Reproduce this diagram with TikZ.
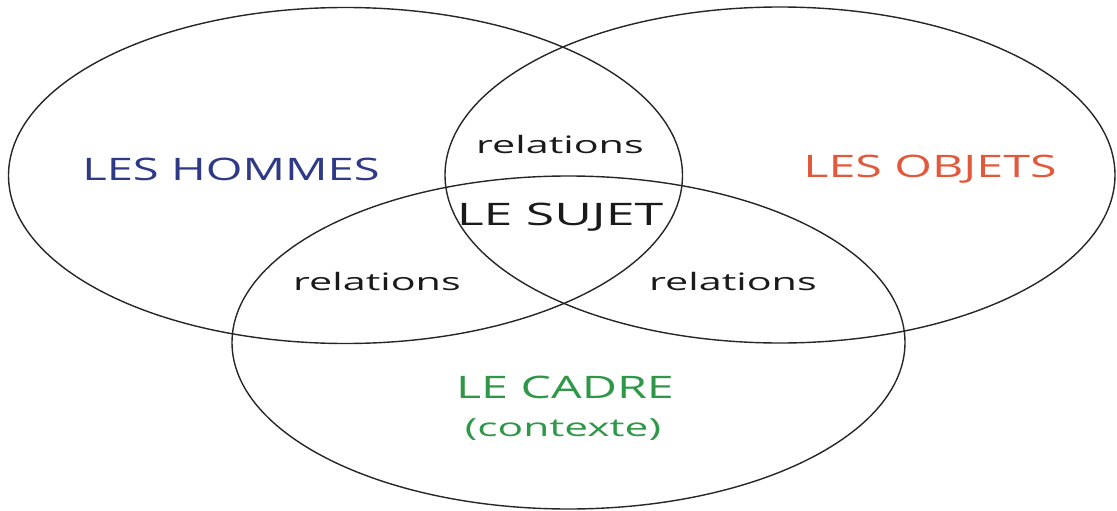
\documentclass[tikz,border=0pt]{standalone}
\usepackage{fontspec}
\setmainfont{Open Sans}
\definecolor{hommes}{HTML}{2E3A86}
\definecolor{objets}{HTML}{E2583A}
\definecolor{cadre}{HTML}{2E9848}
\definecolor{txt}{HTML}{1A1A1A}
\newcommand{\stretchtxt}[2]{\scalebox{#1}[1]{#2}}
\begin{document}
\begin{tikzpicture}[x=1pt,y=-1pt,
  circ/.style={draw=black!85,line width=1.4pt},
  big/.style={font=\fontsize{31}{34}\selectfont,inner sep=0pt},
  rel/.style={font=\fontsize{24}{28}\selectfont,inner sep=0pt,text=txt}]
\useasboundingbox (0,0) rectangle (1117,511);
\draw[circ] (345.5,175.5) ellipse [x radius=337, y radius=168];
\draw[circ] (780,175) ellipse [x radius=335, y radius=168];
\draw[circ] (568.5,342.5) ellipse [x radius=336.5, y radius=166.5];
\node[big,text=hommes] (h) at (231,169) {\stretchtxt{1.52}{LES HOMMES}};
\node[big,text=objets] (o) at (930,169) {\stretchtxt{1.56}{LES OBJETS}};
\node[big,text=txt] (s) at (560,217) {\stretchtxt{1.67}{LE SUJET}};
\node[rel] (r1) at (560,144) {\stretchtxt{1.72}{relations}};
\node[rel] (r2) at (377,281) {\stretchtxt{1.72}{relations}};
\node[rel] (r3) at (733,281) {\stretchtxt{1.72}{relations}};
\node[big,text=cadre] (c) at (565,387) {\stretchtxt{1.56}{LE CADRE}};
\node[font=\fontsize{25}{28}\selectfont,inner sep=0pt,text=cadre] (c2) at (563,430) {\stretchtxt{1.7}{(contexte)}};
\end{tikzpicture}
\end{document}
